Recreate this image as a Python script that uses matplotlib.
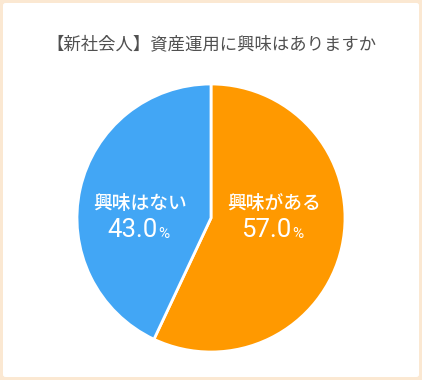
import matplotlib
matplotlib.use("Agg")
import matplotlib.pyplot as plt
from matplotlib.patches import FancyBboxPatch

plt.rcParams['font.family'] = ['Noto Sans CJK JP', 'DejaVu Sans']

TITLE = "【新社会人】資産運用に興味はありますか"
labels = ["興味がある", "興味はない"]
values = [57.0, 43.0]
colors = ["#FF9900", "#42A6F5"]
label_pos = [(0.47, 0.0), (-0.53, 0.0)]   # in pie data units

fig = plt.figure(figsize=(4.22, 3.80), dpi=100)
fig.patch.set_facecolor("#FBE8D2")
# white card inside the peach frame
card = FancyBboxPatch((3 / 422, 3 / 380), 1 - 6 / 422, 1 - 6 / 380,
                      boxstyle="round,pad=0,rounding_size=0.006",
                      transform=fig.transFigure, facecolor="white",
                      edgecolor="none", zorder=-10)
fig.patches.append(card)

fig.text(0.5, 1 - 44 / 380, TITLE, ha="center", va="center",
         fontsize=12.5, color="#505050")

ax = fig.add_axes([77 / 422, 28 / 380, 268 / 422, 268 / 380])
ax.pie(values, colors=colors, startangle=90, counterclock=False,
       wedgeprops=dict(edgecolor="white", linewidth=2))
ax.set_aspect("auto")
ax.set_xlim(-1, 1)
ax.set_ylim(-1, 1)

for lab, val, (x, y) in zip(labels, values, label_pos):
    ax.text(x, y + 0.11, lab, ha="center", va="center", fontsize=13.5,
            color="white", fontweight="medium")
    ax.text(x + 0.13, y - 0.09, f"{val:.1f}", ha="right", va="center",
            fontsize=18.5, color="white", family=["Roboto", "DejaVu Sans"])
    ax.text(x + 0.14, y - 0.12, "%", ha="left", va="center",
            fontsize=11, color="white", family=["Roboto", "DejaVu Sans"])

fig.savefig("out.png", dpi=100)
